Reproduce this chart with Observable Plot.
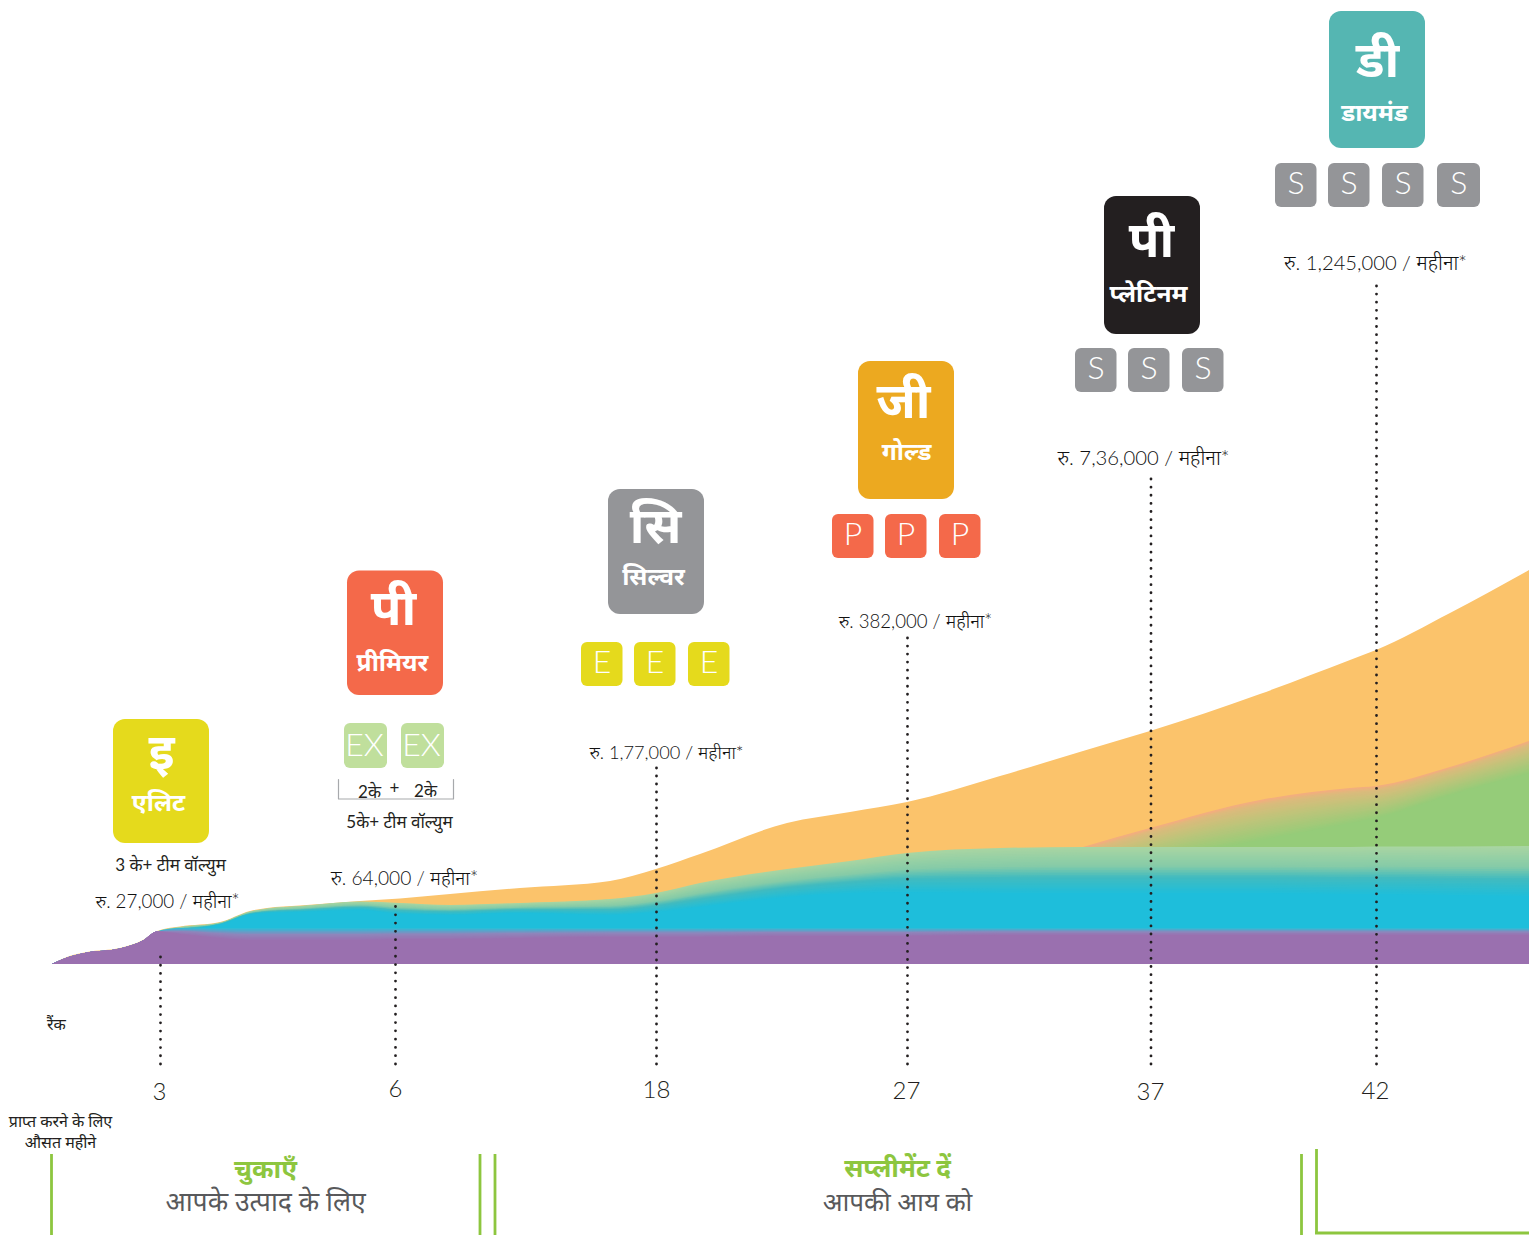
<!DOCTYPE html>
<html lang="hi">
<head>
<meta charset="utf-8">
<script src="https://cdn.jsdelivr.net/npm/d3@7"></script>
<script src="https://cdn.jsdelivr.net/npm/@observablehq/plot@0.6"></script>
<style>
html,body{margin:0;padding:0;background:#fff;overflow:hidden}
svg{display:block}
</style>
</head>
<body>
<div id="chart"></div>
<script>
// ---- growth curves: heights above the chart's baseline
const curveX      = [52,67,87,120,143,157,180,220,250,267,300,360,400,450,520,610,656,700,787,850,907,1000,1083,1150,1260,1350,1376,1450,1529];
const orangeTop   = [0,7,12,16,24,33,37.5,42,53,56,58.5,63,65.5,70,76,83,95,110,141,152,162,188,213,233,270,304,314,351,394];
const paleGreenTop= [0,6.4,11.4,15.4,23.4,32.4,36.9,41.4,52.4,55.4,57.9,62.4,61,59,61,65,71,81,95,103,111,116,117,117,117,117,117.5,117.5,118];
const tealSolidTop= [0,6,11,15,23,32,34,39.4,49.4,51,52,54,50,49,51,49,52,57,67,71,72,71,71,71,71,70,70,69,68];
const tealBottom  = [0,6.4,11.4,15.4,23.4,32.4,36,36,36,36,36,36,36,36,36,36,36,36,36,36,36,36,36,36,36,36,36,36,36];
const purpleSolid = [0,6.4,11.4,15.4,23.4,32.4,30,26,24,24,24,24,25,25,26,27,27,27,28,28,28,29,29,29,29,29,29,29,29];
const greenX      = [1083,1150,1260,1350,1376,1450,1529];
const greenEdge   = [117,136,164,176,178,197,223];
const greenSolid  = [79,102,124,141,146,169,191];

// ---- tiers
const tierLetters = ["इ","पी","सि","जी","पी","डी"];
const tierNames   = ["एलिट","प्रीमियर","सिल्वर","गोल्ड","प्लेटिनम","डायमंड"];
const ranks       = ["3","6","18","27","37","42"];
const incomes     = ["रु. 27,000 / महीना*","रु. 64,000 / महीना*","रु. 1,77,000 / महीना*","रु. 382,000 / महीना*","रु. 7,36,000 / महीना*","रु. 1,245,000 / महीना*"];
const badgeLabels = ["EX","EX","E","E","E","P","P","P","S","S","S","S","S","S","S"];

// ---- layout (chart units) and colours
const BASE = 964;
const cardLeft  = [113,347,608,858,1104,1329];
const cardTop   = [719,570.5,489,361,196,11];
const cardBot   = [843,695,614,499,334,148];
const cardFill  = ["#E5DA1C","#F4694A","#949598","#ECA920","#231F20","#55B6B2"];
const letterPos = [[161,752],[393,608],[655,526],[903,401],[1151,240],[1377,60]];
const namePos   = [[158,803],[392,663],[653,577],[906,452],[1148,294],[1374,113]];
const rankX     = [160,395,656,907,1150.5,1376];
const ruleTop   = [957,906.5,768,638,479,286];
const rankPos   = [[159,1092],[395,1089],[656,1090],[906,1091],[1150,1092],[1375,1091]];
const incomePos = [[167,901],[404,878],[666,753],[915,622],[1143,458],[1375,263]];
const incomeSize= [18.8,19.2,18.2,18.6,20.3,20.2];
const badgeLeft = [344,401,581,634,688,832,885,939,1075,1128,1182,1275,1328,1382,1437];
const badgeTop  = [723,723,642,642,642,514,514,514,348,348,348,163,163,163,163];
const badgeFill = ["#C0DF9C","#C0DF9C","#E5DA1C","#E5DA1C","#E5DA1C","#F4694A","#F4694A","#F4694A","#949598","#949598","#949598","#949598","#949598","#949598","#949598"];
const GREEN = "#8DC63F";
const RULE_END = 1064;
const DOT_STEP = 8.1;

const FONT = 'Lato, "Noto Sans", sans-serif';

// ---- helpers
const h2y = h => BASE - h;
const ramp = (stops, colors) => d3.scaleLinear().domain(stops).range(colors).interpolate(d3.interpolateRgb);

function bands(xs, solid, edge, floor, color, n, prefix) {
  const rows = [];
  for (let k = n; k >= 0; k--) {
    const t = k / n;
    xs.forEach((x, i) => rows.push({
      band: prefix + k, x,
      y1: h2y(floor[i]),
      y2: h2y(solid[i] + (edge[i] - solid[i]) * t),
      color: color(t)
    }));
  }
  return rows;
}
const zeros = a => a.map(() => 0);

const tealColor   = ramp([0,.36,.6,1], ["#1EBEDB","#42BBBF","#85CBA8","#A8D5A2"]);
const purpleColor = ramp([0,.5,1], ["#9A70AF","#8E86BC","#30BBD6"]);
const greenColor  = ramp([0,.6,.9,1], ["#95CC79","#C3C37A","#DCBA7C","#F2AE7E"]);

const greenRows  = bands(greenX, greenSolid, greenEdge, greenX.map(() => 110), greenColor, 24, "g");
const tealRows   = bands(curveX, tealSolidTop, paleGreenTop, zeros(curveX), tealColor, 28, "t");
const purpleRows = bands(curveX, purpleSolid, tealBottom, zeros(curveX), purpleColor, 10, "p");

const areaOpts = {x1:"x", y1:"y1", y2:"y2", z:"band", fill:"color", curve:"monotone-x"};

const cards = tierLetters.map((letter,i) => ({letter, name:tierNames[i], x1:cardLeft[i], x2:cardLeft[i]+96, y1:cardTop[i], y2:cardBot[i], fill:cardFill[i],
  lx:letterPos[i][0], ly:letterPos[i][1], nx:namePos[i][0], ny:namePos[i][1]}));
const badges = badgeLabels.map((label,i) => ({label, x1:badgeLeft[i], x2:badgeLeft[i]+(i<2?43:i===14?43:41.5), y1:badgeTop[i], y2:badgeTop[i]+(i<2?45:44), fill:badgeFill[i]}));
const rankLabels = ranks.map((text,i) => ({text, x:rankPos[i][0], y:rankPos[i][1]}));
const incomeLabels = incomes.map((text,i) => ({text, x:incomePos[i][0], y:incomePos[i][1], size:incomeSize[i]}));

// every dotted rule gets a whole number of dots, so that its last dot lands on the common end
const ruleMarks = rankX.map((x,i) => {
  const len = RULE_END - ruleTop[i];
  const step = len / Math.round(len / DOT_STEP);
  return Plot.ruleX([x], {y1:ruleTop[i], y2:RULE_END + 0.5, stroke:"#231F20", strokeWidth:2.8, strokeDasharray:`0 ${step}`, strokeLinecap:"round"});
});

const caption = (rows, o) => Plot.text(rows, {x:d=>d[1], y:d=>d[2], text:d=>d[0], textAnchor:"middle", lineAnchor:"middle", fontFamily:FONT, ...o});

const chart = Plot.plot({
  width:1529, height:1235,
  marginTop:0, marginRight:0, marginBottom:0, marginLeft:0,
  style:{background:"#fff", fontFamily:FONT},
  x:{domain:[0,1529], range:[0,1529], axis:null},
  y:{domain:[0,1235], range:[0,1235], axis:null},
  color:{type:"identity"},
  marks:[
    Plot.area(curveX.map((x,i)=>({x, y1:BASE, y2:h2y(orangeTop[i])})), {x1:"x", y1:"y1", y2:"y2", fill:"#FBC36B", curve:"monotone-x"}),
    Plot.area(greenRows, areaOpts),
    Plot.area(tealRows, areaOpts),
    Plot.area(purpleRows, areaOpts),

    ...ruleMarks,

    Plot.rect(cards, {x1:"x1", x2:"x2", y1:"y1", y2:"y2", fill:"fill", rx:12}),
    Plot.text(cards, {x:"lx", y:"ly", text:"letter", fill:"#fff", fontSize:50, fontWeight:700, textAnchor:"middle", lineAnchor:"middle", fontFamily:FONT}),
    Plot.text(cards, {x:"nx", y:"ny", text:"name", fill:"#fff", fontSize:24.5, fontWeight:700, textAnchor:"middle", lineAnchor:"middle", fontFamily:FONT}),

    Plot.rect(badges, {x1:"x1", x2:"x2", y1:"y1", y2:"y2", fill:"fill", rx:6}),
    Plot.text(badges, {x:d=>(d.x1+d.x2)/2-(d.label==="EX"?1.5:0.3), y:d=>(d.y1+d.y2)/2-(d.label==="EX"?0:1.8), text:"label", fill:"#fff", fontSize:32, fontWeight:300, textAnchor:"middle", lineAnchor:"middle", fontFamily:FONT}),

    Plot.line([[338,779],[338,798.5],[453,798.5],[453,779]], {x:d=>d[0], y:d=>d[1], stroke:"#A7A9AC", strokeWidth:1.2}),
    caption([["2के",369,792],["+",394,788],["2के",425,791]], {fontSize:17, fill:"#231F20"}),
    caption([["5के+ टीम वॉल्युम",399,822],["3 के+ टीम वॉल्युम",170,865]], {fontSize:17, fill:"#231F20"}),

    Plot.text(incomeLabels, {x:"x", y:"y", text:"text", fontSize:"size", fill:"#111", fontWeight:300, textAnchor:"middle", lineAnchor:"middle", fontFamily:FONT}),
    Plot.text(rankLabels, {x:"x", y:"y", text:"text", fontSize:24, fill:"#231F20", fontWeight:300, textAnchor:"middle", lineAnchor:"middle", fontFamily:FONT}),

    caption([["रैंक",56,1024],["प्राप्त करने के लिए",60,1121],["औसत महीने",60,1142]], {fontSize:16, fill:"#231F20"}),
    caption([["चुकाएँ",265,1169],["सप्लीमेंट दें",897,1168]], {fontSize:26, fontWeight:700, fill:GREEN}),
    caption([["आपके उत्पाद के लिए",265,1202]], {fontSize:26.6, fill:"#58595B"}),
    caption([["आपकी आय को",897,1202]], {fontSize:26, fill:"#58595B"}),

    Plot.ruleX([51,479.5,494.5,1301], {y1:1154, y2:1235, stroke:GREEN, strokeWidth:2.8}),
    Plot.ruleX([1316], {y1:1149, y2:1233, stroke:GREEN, strokeWidth:2.8}),
    Plot.ruleY([1232.5], {x1:1315, x2:1529, stroke:GREEN, strokeWidth:2.8})
  ]
});
document.getElementById("chart").append(chart);
</script>
</body>
</html>
